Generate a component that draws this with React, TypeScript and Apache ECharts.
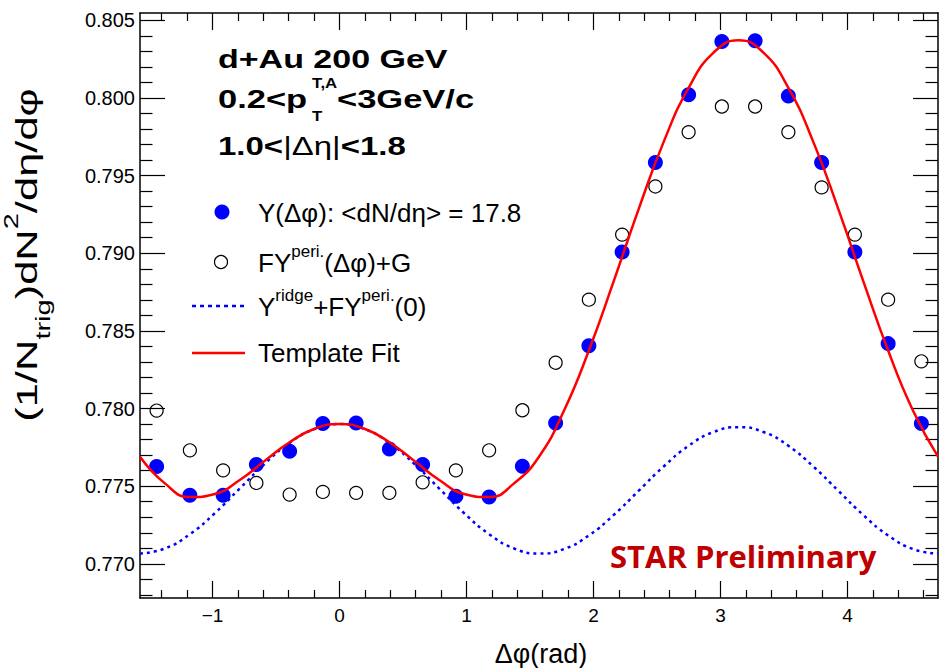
import React, { useEffect, useRef } from "react";
import * as echarts from "echarts";

// ---- data ----
const phiBins = [
  -1.4399, -1.1781, -0.9163, -0.6545, -0.3927, -0.1309, 0.1309, 0.3927, 0.6545, 0.9163, 1.1781, 1.4399,
  1.7017, 1.9635, 2.2253, 2.4871, 2.7489, 3.0107, 3.2725, 3.5343, 3.7961, 4.0579, 4.3197, 4.5815,
];
const yieldY = [
  0.77626, 0.77441, 0.77441, 0.77639, 0.77725, 0.77903, 0.77907, 0.7774, 0.77639, 0.77435, 0.77431, 0.77628,
  0.77907, 0.78405, 0.79008, 0.79584, 0.8002, 0.80363, 0.80369, 0.80013, 0.79584, 0.79008, 0.78418, 0.77903,
];
const periPlusG = [
  0.77987, 0.77731, 0.77602, 0.77521, 0.77446, 0.77463, 0.77457, 0.77457, 0.77525, 0.77602, 0.77731, 0.77989,
  0.78295, 0.78701, 0.7912, 0.7943, 0.7978, 0.79945, 0.79945, 0.7978, 0.79424, 0.7912, 0.78701, 0.78304,
];
const curvePhi = [
  -1.5708, -1.3744, -1.1781, -0.9817, -0.7854, -0.589, -0.3927, -0.1963, 0, 0.1963, 0.3927, 0.589, 0.7854,
  0.9817, 1.1781, 1.3744, 1.5708, 1.7671, 1.9635, 2.1598, 2.3562, 2.5525, 2.7489, 2.9452, 3.1416, 3.3379,
  3.5343, 3.7306, 3.927, 4.1233, 4.3197, 4.516, 4.7124,
];
const templateFit = [
  0.7769, 0.77518, 0.7743, 0.7745, 0.7754, 0.77663, 0.77783, 0.7787, 0.77901, 0.7787, 0.77783, 0.77663, 0.7754,
  0.7745, 0.7743, 0.77518, 0.7769, 0.77986, 0.78374, 0.78822, 0.79286, 0.79717, 0.80065, 0.80292, 0.80371,
  0.80292, 0.80065, 0.79717, 0.79286, 0.78822, 0.78374, 0.77986, 0.7769,
];
const ridgePlusPeri0 = [
  0.77066, 0.77099, 0.77191, 0.77326, 0.77485, 0.77644, 0.77779, 0.77868, 0.779, 0.77868, 0.77779, 0.77644,
  0.77485, 0.77326, 0.77191, 0.77099, 0.77066, 0.77095, 0.77183, 0.77315, 0.77471, 0.77627, 0.7776, 0.77849,
  0.7788, 0.77849, 0.7776, 0.77627, 0.77471, 0.77315, 0.77183, 0.77095, 0.77066,
];
const xMajorTicks = [-1, 0, 1, 2, 3, 4];
const xMinorTicks = [
  -1.4, -1.2, -0.8, -0.6, -0.4, -0.2, 0.2, 0.4, 0.6, 0.8, 1.2, 1.4, 1.6, 1.8, 2.2, 2.4, 2.6, 2.8, 3.2, 3.4, 3.6,
  3.8, 4.2, 4.4, 4.6,
];
const yMajorTicks = [0.77, 0.775, 0.78, 0.785, 0.79, 0.795, 0.8, 0.805];
const yMinorTicks = [
  0.768, 0.769, 0.771, 0.772, 0.773, 0.774, 0.776, 0.777, 0.778, 0.779, 0.781, 0.782, 0.783, 0.784, 0.786,
  0.787, 0.788, 0.789, 0.791, 0.792, 0.793, 0.794, 0.796, 0.797, 0.798, 0.799, 0.801, 0.802, 0.803, 0.804,
];
const X_MIN = -1.5708;
const X_MAX = 4.7124;
const Y_MIN = 0.7678;
const Y_MAX = 0.80547;

const FONT = '"Liberation Sans", Arial, Helvetica, sans-serif';

function xAxisDef(position: string, ticks: number[], len: number, labels: boolean, line: boolean) {
  return {
    type: "value",
    position,
    min: X_MIN,
    max: X_MAX,
    axisLine: { show: line, onZero: false, lineStyle: { color: "#000", width: 1.5 } },
    axisTick: { show: true, inside: true, length: len, customValues: ticks, lineStyle: { color: "#000", width: 1.2 } },
    axisLabel: labels
      ? {
          show: true,
          customValues: ticks,
          formatter: (v: number) => (v < 0 ? "\u2212" + Math.abs(v) : String(v)),
          fontSize: 19,
          fontFamily: FONT,
          color: "#000",
          margin: 8,
        }
      : { show: false },
    splitLine: { show: false },
  };
}

function yAxisDef(position: string, ticks: number[], len: number, labels: boolean, line: boolean) {
  return {
    type: "value",
    position,
    min: Y_MIN,
    max: Y_MAX,
    axisLine: { show: line, onZero: false, lineStyle: { color: "#000", width: 1.5 } },
    axisTick: { show: true, inside: true, length: len, customValues: ticks, lineStyle: { color: "#000", width: 1.2 } },
    axisLabel: labels
      ? {
          show: true,
          customValues: ticks,
          formatter: (v: number) => v.toFixed(3),
          fontSize: 20,
          fontFamily: FONT,
          color: "#000",
          margin: 5,
        }
      : { show: false },
    splitLine: { show: false },
  };
}

export default function App() {
  const ref = useRef<HTMLDivElement>(null);
  useEffect(() => {
    if (!ref.current) return;
    const chart = echarts.init(ref.current, null, { renderer: "svg" });
    const headerBold = { fontSize: 25, fontWeight: "bold", fontFamily: FONT, fill: "#000" };
    chart.setOption({
      animation: false,
      backgroundColor: "#fff",
      grid: { left: 140, top: 13, width: 798, height: 585, containLabel: false },
      xAxis: [
        xAxisDef("bottom", xMajorTicks, 17, true, true),
        xAxisDef("bottom", xMinorTicks, 8, false, false),
        xAxisDef("top", xMajorTicks, 17, false, true),
        xAxisDef("top", xMinorTicks, 8, false, false),
      ],
      yAxis: [
        yAxisDef("left", yMajorTicks, 25, true, true),
        yAxisDef("left", yMinorTicks, 12.5, false, false),
        yAxisDef("right", yMajorTicks, 25, false, true),
        yAxisDef("right", yMinorTicks, 12.5, false, false),
      ],
      series: [
        {
          type: "scatter",
          name: "FY^peri.(Δφ)+G",
          data: phiBins.map((x, i) => [x, periPlusG[i]]),
          symbol: "circle",
          symbolSize: 13,
          itemStyle: { color: "rgba(0,0,0,0)", borderColor: "#000", borderWidth: 1.2, opacity: 1 },
        },
        {
          type: "scatter",
          name: "Y(Δφ)",
          data: phiBins.map((x, i) => [x, yieldY[i]]),
          symbol: "circle",
          symbolSize: 15,
          itemStyle: { color: "#0000ff", opacity: 1 },
        },
        {
          type: "line",
          name: "Y^ridge+FY^peri.(0)",
          data: curvePhi.map((x, i) => [x, ridgePlusPeri0[i]]),
          showSymbol: false,
          smooth: true,
          lineStyle: { color: "#0000ff", width: 2.5, type: [3, 4] },
        },
        {
          type: "line",
          name: "Template Fit",
          data: curvePhi.map((x, i) => [x, templateFit[i]]),
          showSymbol: false,
          smooth: true,
          lineStyle: { color: "#ff0000", width: 2.5 },
        },
      ],
      graphic: [
        // header
        { type: "text", x: 218, y: 59, scaleX: 1.36, style: { text: "d+Au 200 GeV", ...headerBold, align: "left", verticalAlign: "middle" } },
        { type: "text", x: 218, y: 99, scaleX: 1.38, style: { text: "0.2<p", ...headerBold, align: "left", verticalAlign: "middle" } },
        { type: "text", x: 312, y: 83, scaleX: 1.2, style: { text: "T,A", fontSize: 14, fontWeight: "bold", fontFamily: FONT, fill: "#000", align: "left", verticalAlign: "middle" } },
        { type: "text", x: 312, y: 116, scaleX: 1.2, style: { text: "T", fontSize: 14, fontWeight: "bold", fontFamily: FONT, fill: "#000", align: "left", verticalAlign: "middle" } },
        { type: "text", x: 337, y: 99, scaleX: 1.38, style: { text: "<3GeV/c", ...headerBold, align: "left", verticalAlign: "middle" } },
        {
          type: "text",
          x: 218,
          y: 146,
          scaleX: 1.32,
          style: {
            text: "{b|1.0<}{n||Δη|}{b|<1.8}",
            align: "left",
            verticalAlign: "middle",
            rich: {
              b: { fontSize: 25, fontWeight: "bold", fontFamily: FONT, fill: "#000" },
              n: { fontSize: 25, fontFamily: FONT, fill: "#000" },
            },
          },
        },
        // legend
        { type: "circle", shape: { cx: 222, cy: 212, r: 7.5 }, style: { fill: "#0000ff" } },
        { type: "circle", shape: { cx: 221, cy: 262, r: 6.5 }, style: { fill: "none", stroke: "#000", lineWidth: 1.2 } },
        { type: "line", shape: { x1: 192, y1: 306, x2: 245, y2: 306 }, style: { stroke: "#0000ff", lineWidth: 2.5, lineDash: [4, 4] } },
        { type: "line", shape: { x1: 192, y1: 353, x2: 245, y2: 353 }, style: { stroke: "#ff0000", lineWidth: 2.5 } },
        { type: "text", x: 258, y: 213, style: { text: "Y(Δφ): <dN/dη> = 17.8", fontSize: 26, fontFamily: FONT, fill: "#000", align: "left", verticalAlign: "middle" } },
        {
          type: "text",
          x: 258,
          y: 263,
          style: {
            text: "{m|FY}{s|peri.}{m|(Δφ)+G}",
            align: "left",
            verticalAlign: "middle",
            rich: {
              m: { fontSize: 26, fontFamily: FONT, fill: "#000", lineHeight: 40 },
              s: { fontSize: 17, fontFamily: FONT, fill: "#000", verticalAlign: "top" },
            },
          },
        },
        {
          type: "text",
          x: 258,
          y: 307,
          style: {
            text: "{m|Y}{s|ridge}{m|+FY}{s|peri.}{m|(0)}",
            align: "left",
            verticalAlign: "middle",
            rich: {
              m: { fontSize: 26, fontFamily: FONT, fill: "#000", lineHeight: 40 },
              s: { fontSize: 17, fontFamily: FONT, fill: "#000", verticalAlign: "top" },
            },
          },
        },
        { type: "text", x: 258, y: 353, style: { text: "Template Fit", fontSize: 26, fontFamily: FONT, fill: "#000", align: "left", verticalAlign: "middle" } },
        // STAR Preliminary
        { type: "text", x: 610, y: 556, style: { text: "STAR Preliminary", fontSize: 31, fontWeight: "bold", fontFamily: '"Open Sans", "Noto Sans", sans-serif', fill: "#c00000", align: "left", verticalAlign: "middle" } },
        // axis titles
        { type: "text", x: 541, y: 654, style: { text: "Δφ(rad)", fontSize: 27, fontFamily: FONT, fill: "#000", align: "center", verticalAlign: "middle" } },
        {
          type: "text",
          x: 27,
          y: 255,
          rotation: Math.PI / 2,
          scaleX: 1.45,
          style: {
            text: "{m|(1/N}{b|trig}{m|)dN}{t|2}{m|/dη/dφ}",
            align: "center",
            verticalAlign: "middle",
            rich: {
              m: { fontSize: 30, fontFamily: FONT, fill: "#000", lineHeight: 52 },
              b: { fontSize: 20, fontFamily: FONT, fill: "#000", verticalAlign: "bottom" },
              t: { fontSize: 20, fontFamily: FONT, fill: "#000", verticalAlign: "top" },
            },
          },
        },
      ],
    });
    return () => chart.dispose();
  }, []);
  return (
    <div
      ref={ref}
      style={{ position: "fixed", left: 0, top: 0, width: 940, height: 668, background: "#fff" }}
    />
  );
}
